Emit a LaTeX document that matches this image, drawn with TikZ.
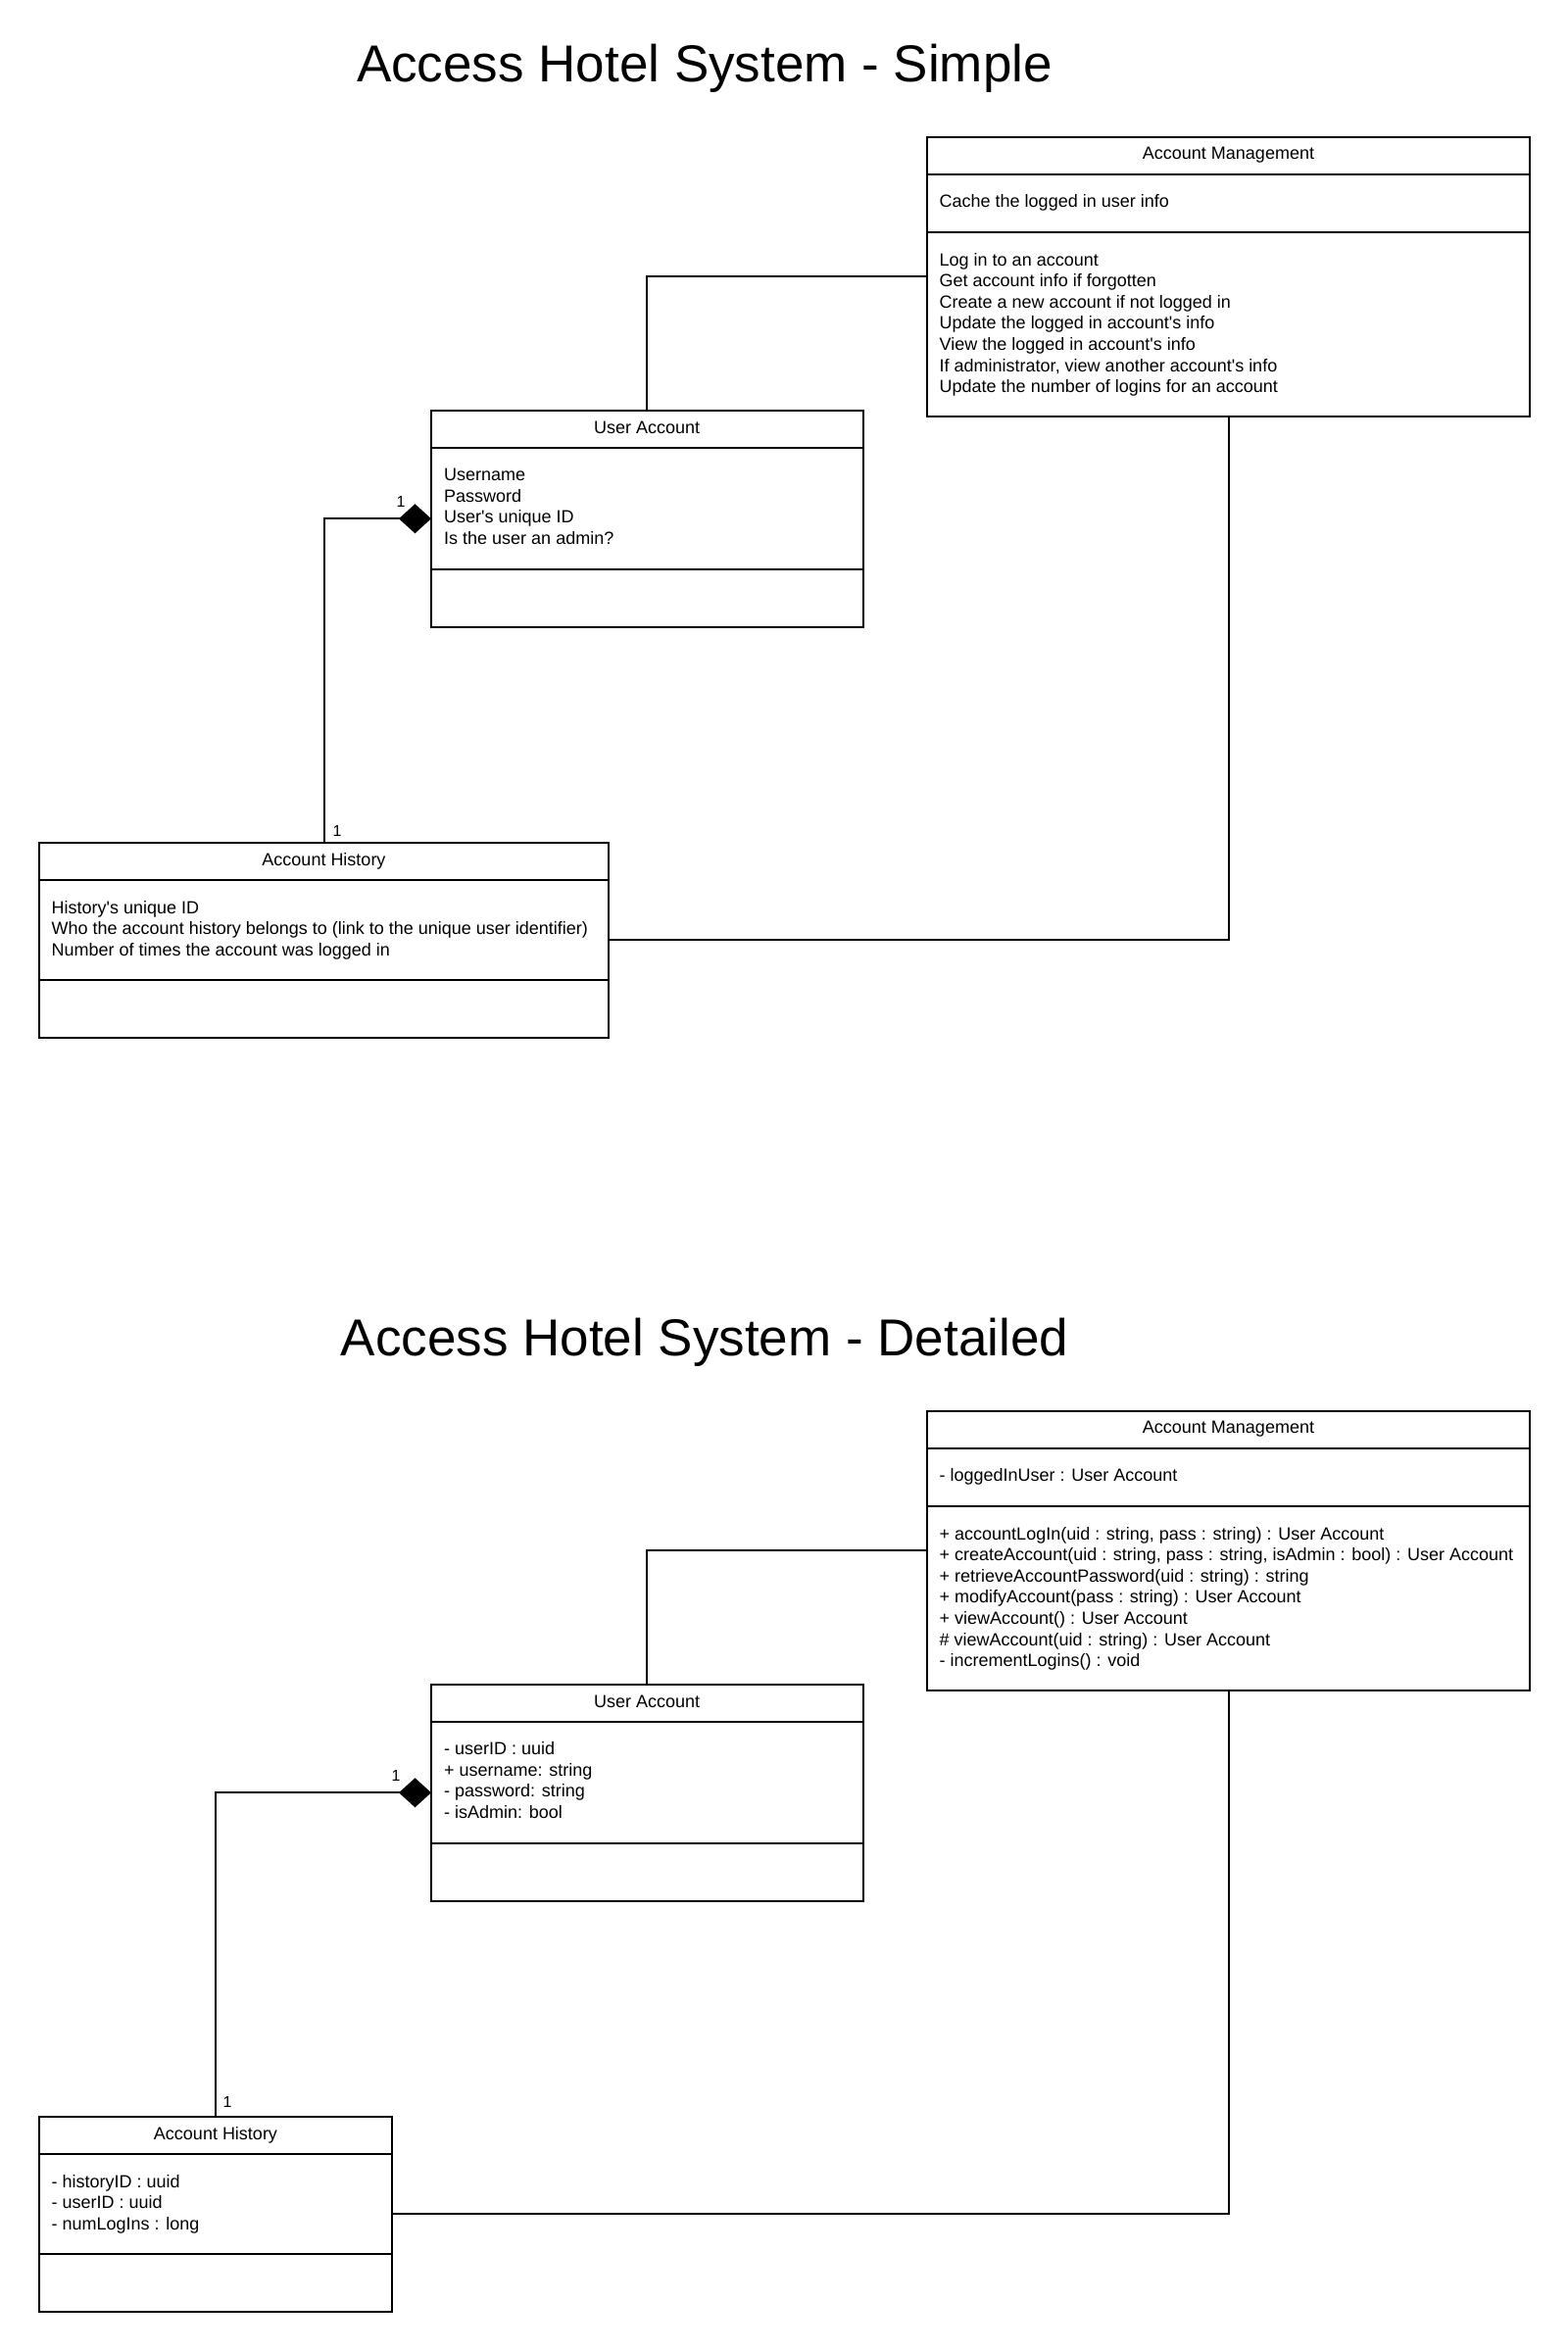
\documentclass[tikz,border=0pt]{standalone}
\usepackage{fontspec}
\setmainfont{Liberation Sans}[Ligatures=TeXOff]
\usetikzlibrary{arrows.meta}
\begin{document}
\begin{tikzpicture}[x=1pt,y=-1pt,
  cls/.style={draw=black, line width=2pt, inner sep=0pt, outer sep=0pt, anchor=north west},
  divline/.style={line width=2pt},
  hdr/.style={font=\fontsize{18}{21.6}\selectfont, inner sep=0pt, anchor=base},
  txt/.style={font=\fontsize{18}{21.6}\selectfont, inner sep=0pt, anchor=base west},
  ttl/.style={font=\fontsize{53}{60}\selectfont, inner sep=0pt, anchor=base},
  mult/.style={font=\fontsize{16}{19}\selectfont, inner sep=0pt},
  conn/.style={line width=2pt},
  comp/.style={conn, -{Diamond[length=33pt,width=30pt]}}
]
\useasboundingbox (0,0) rectangle (1600,2399);
\fill[white] (0,0) rectangle (1600,2399);

% ================= SIMPLE =================
\node[ttl] (t1) at (719,83) {Access Hotel System - Simple};

% Account Management
\node[cls, minimum width=615pt, minimum height=285pt] (amS) at (946,139.5) {};
\draw[divline] (946,177.5) -- (1561,177.5);
\draw[divline] (946,237) -- (1561,237);
\node[hdr] (amSh) at (1253.5,162.5) {Account Management};
\node[txt] (amSa) at (958.5,211.5) {Cache the logged in user info};
\foreach \t [count=\i from 0] in {Log in to an account, Get account info if forgotten, Create a new account if not logged in, Update the logged in account's info, View the logged in account's info, {If administrator, view another account's info}, Update the number of logins for an account}
  \node[txt] (amSo\i) at (958.5,{271+21.6*\i}) {\t};

% User Account
\node[cls, minimum width=440.5pt, minimum height=220.5pt] (uaS) at (440,419) {};
\draw[divline] (440,456.5) -- (880.5,456.5);
\draw[divline] (440,581) -- (880.5,581);
\node[hdr] (uaSh) at (660.25,442) {User Account};
\foreach \t [count=\i from 0] in {Username, Password, User's unique ID, Is the user an admin?}
  \node[txt] (uaSa\i) at (453,{490.5+21.6*\i}) {\t};

% Account History
\node[cls, minimum width=581pt, minimum height=198.5pt] (ahS) at (40,860) {};
\draw[divline] (40,898) -- (621,898);
\draw[divline] (40,1000) -- (621,1000);
\node[hdr] (ahSh) at (330.5,883) {Account History};
\foreach \t [count=\i from 0] in {History's unique ID, Who the account history belongs to (link to the unique user identifier), Number of times the account was logged in}
  \node[txt] (ahSa\i) at (52.5,{932+21.6*\i}) {\t};

% connectors
\draw[conn] (uaS.north) |- (amS.west);
\draw[conn] (amS.south) |- (ahS.east);
\draw[comp] (ahS.north) |- (uaS.west);
\node[mult] (mS1) at (409,512) {1};
\node[mult] (mS2) at (344,848) {1};

% ================= DETAILED =================
\node[ttl] (t2) at (719,1383) {Access Hotel System - Detailed};

% Account Management
\node[cls, minimum width=615pt, minimum height=285pt] (amD) at (946,1439.5) {};
\draw[divline] (946,1477.5) -- (1561,1477.5);
\draw[divline] (946,1537) -- (1561,1537);
\node[hdr] (amDh) at (1253.5,1462.5) {Account Management};
\node[txt] (amDa) at (958.5,1511.5) {- loggedInUser : User Account};
\foreach \t [count=\i from 0] in {{+ accountLogIn(uid : string, pass : string) : User Account}, {+ createAccount(uid : string, pass : string, isAdmin : bool) : User Account}, {+ retrieveAccountPassword(uid : string) : string}, {+ modifyAccount(pass : string) : User Account}, {+ viewAccount() : User Account}, {\# viewAccount(uid : string) : User Account}, {- incrementLogins() : void}}
  \node[txt] (amDo\i) at (958.5,{1571+21.6*\i}) {\t};

% User Account
\node[cls, minimum width=440.5pt, minimum height=220.5pt] (uaD) at (440,1719) {};
\draw[divline] (440,1756.5) -- (880.5,1756.5);
\draw[divline] (440,1881) -- (880.5,1881);
\node[hdr] (uaDh) at (660.25,1742) {User Account};
\foreach \t [count=\i from 0] in {- userID : uuid, + username: string, - password: string, - isAdmin: bool}
  \node[txt] (uaDa\i) at (453,{1790.5+21.6*\i}) {\t};

% Account History
\node[cls, minimum width=360pt, minimum height=198.5pt] (ahD) at (40,2160) {};
\draw[divline] (40,2198) -- (400,2198);
\draw[divline] (40,2300) -- (400,2300);
\node[hdr] (ahDh) at (220,2183) {Account History};
\foreach \t [count=\i from 0] in {- historyID : uuid, - userID : uuid, - numLogIns : long}
  \node[txt] (ahDa\i) at (52.5,{2232+21.6*\i}) {\t};

% connectors
\draw[conn] (uaD.north) |- (amD.west);
\draw[conn] (amD.south) |- (ahD.east);
\draw[comp] (ahD.north) |- (uaD.west);
\node[mult] (mD1) at (404,1812) {1};
\node[mult] (mD2) at (232,2145) {1};
\end{tikzpicture}
\end{document}
